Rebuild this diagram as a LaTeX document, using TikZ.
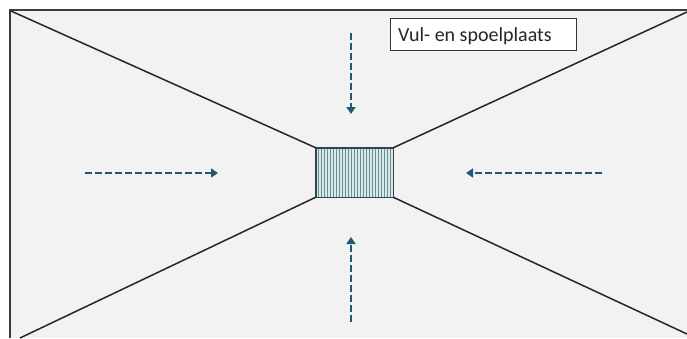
\documentclass[tikz,border=0pt]{standalone}
\usepackage{fontspec}
\setmainfont{Carlito}
\usetikzlibrary{calc,arrows.meta}
\definecolor{bgc}{HTML}{F2F2F2}
\definecolor{framec}{HTML}{33414A}
\definecolor{arrc}{HTML}{1F5A72}
\definecolor{boxfill}{HTML}{D7EAEA}
\definecolor{hatchc}{HTML}{6A8C92}
\begin{document}
\begin{tikzpicture}[x=1pt,y=-1pt,
  diag/.style={draw=black!85,line width=1.5pt},
  flow/.style={draw=arrc,line width=2.6pt,dash pattern=on 7pt off 3pt,-{Triangle[length=7pt,width=9pt]}},
  labelbox/.style={draw=black!80,line width=0.9pt,fill=white,minimum height=32pt,minimum width=186pt,inner sep=0pt},
  labeltext/.style={font=\fontsize{20}{22}\selectfont,inner sep=0pt,text=black!85}]
\useasboundingbox (0,0) rectangle (687,338);
\fill[white] (0,0) rectangle (687,338);
\fill[bgc] (10,10) rectangle (687,338);
\draw[framec,line width=1.5pt] (10,338) -- (10,10) -- (687,10);
% central box
\node[draw=none,minimum width=77pt,minimum height=49pt,inner sep=0pt,fill=boxfill] (box) at (354.5,172.5) {};
\foreach \i in {0,...,24}{
  \draw[hatchc,line width=0.45pt] ($(box.north west)+(2.5+\i*3,0)$) -- ($(box.south west)+(2.5+\i*3,0)$);
}
\draw[framec,line width=1.4pt] (box.north west) rectangle (box.south east);
% corners
\coordinate (tl) at (11,11);
\coordinate (tr) at (687,12);
\coordinate (bl) at (20,338);
\coordinate (br) at (687,334);
\draw[diag] (tl) -- (box.north west);
\draw[diag] (tr) -- (box.north east);
\draw[diag] (bl) -- (box.south west);
\draw[diag] (br) -- (box.south east);
% arrows
\coordinate (la) at (85,173); \coordinate (lb) at (218,173);
\coordinate (ra) at (602,173); \coordinate (rb) at (466,173);
\coordinate (ta) at (351,33); \coordinate (tb) at (351,114);
\coordinate (ba) at (351,322); \coordinate (bb) at (351,237);
\draw[flow] (la) -- (lb);
\draw[flow] (ra) -- (rb);
\draw[flow] (ta) -- (tb);
\draw[flow] (ba) -- (bb);
% label
\node[labelbox,anchor=north west] (lbl) at (390,18) {};
\node[labeltext,anchor=base west] (lbltxt) at (398,41) {Vul-\ en spoelplaats};
\end{tikzpicture}
\end{document}
